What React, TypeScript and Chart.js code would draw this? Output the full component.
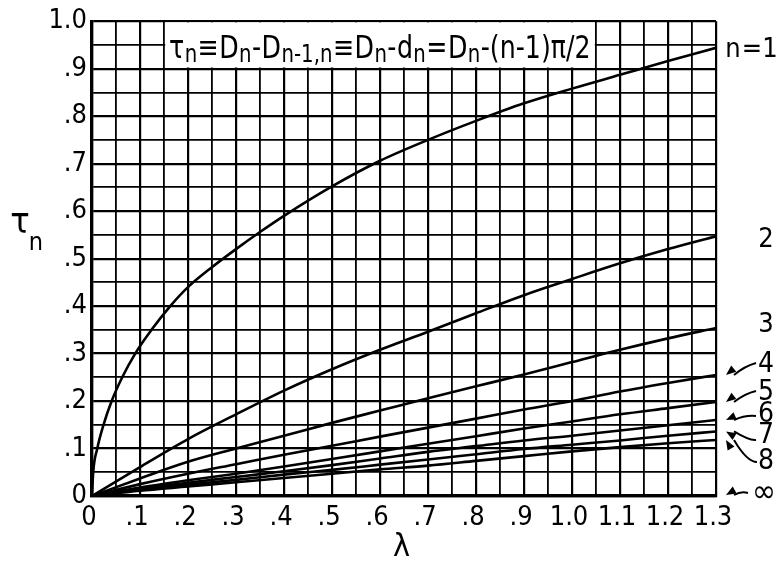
import React, { useEffect, useRef } from "react";
import { Chart, registerables } from "chart.js";

Chart.register(...registerables);

// ---- data ----
const LAMBDA_N1 = [0, 0.0025, 0.011, 0.024, 0.041, 0.063, 0.09, 0.124, 0.163, 0.2, 0.25, 0.3, 0.35, 0.4, 0.5, 0.6, 0.7, 0.8, 0.9, 1.0, 1.1, 1.2, 1.3];
const TAU_N1 = [0, 0.05, 0.1, 0.15, 0.2, 0.25, 0.3, 0.35, 0.4, 0.44, 0.482, 0.52, 0.556, 0.59, 0.652, 0.706, 0.75, 0.79, 0.827, 0.858, 0.887, 0.916, 0.944];

const LAMBDA = [0, 0.1, 0.2, 0.3, 0.4, 0.5, 0.6, 0.7, 0.8, 0.9, 1.0, 1.1, 1.2, 1.3];
const TAU_N2 = [0, 0.061, 0.12, 0.172, 0.222, 0.267, 0.308, 0.346, 0.385, 0.423, 0.457, 0.49, 0.52, 0.547];
const TAU_N3 = [0, 0.037, 0.072, 0.1, 0.127, 0.154, 0.18, 0.206, 0.231, 0.256, 0.282, 0.308, 0.332, 0.354];
const TAU_N4 = [0, 0.025, 0.047, 0.067, 0.087, 0.106, 0.125, 0.144, 0.163, 0.182, 0.2, 0.22, 0.238, 0.255];
const TAU_N5 = [0, 0.018, 0.033, 0.047, 0.062, 0.078, 0.094, 0.11, 0.126, 0.142, 0.157, 0.172, 0.185, 0.198];
const TAU_N6 = [0, 0.015, 0.028, 0.04, 0.052, 0.065, 0.079, 0.093, 0.105, 0.117, 0.127, 0.138, 0.149, 0.16];
const TAU_N7 = [0, 0.013, 0.024, 0.034, 0.045, 0.055, 0.066, 0.077, 0.088, 0.099, 0.108, 0.117, 0.127, 0.136];
const TAU_N8 = [0, 0.011, 0.02, 0.029, 0.038, 0.047, 0.056, 0.064, 0.074, 0.084, 0.094, 0.103, 0.111, 0.118];
const TAU_INF = [0, 0, 0, 0, 0, 0, 0, 0, 0, 0, 0, 0, 0, 0];

const CURVE_LABELS = ["n = 1", "2", "3", "4", "5", "6", "7", "8", "∞"];

const X_TICK_LABELS = ["0", ".1", ".2", ".3", ".4", ".5", ".6", ".7", ".8", ".9", "1.0", "1.1", "1.2", "1.3"];
const Y_TICK_LABELS = ["0", ".1", ".2", ".3", ".4", ".5", ".6", ".7", ".8", ".9", "1.0"];

const X_TITLE = "λ";
const Y_TITLE_MAIN = "τ";
const Y_TITLE_SUB = "n";

// formula parts: [text, isSubscript]
const FORMULA: [string, boolean][] = [
  ["τ", false], ["n", true], ["≡", false], ["D", false], ["n", true], ["-", false],
  ["D", false], ["n-1,n", true], ["≡", false], ["D", false], ["n", true], ["-", false],
  ["d", false], ["n", true], ["=", false], ["D", false], ["n", true], ["-(n-1)π/2", false],
];

const FONT = "'DejaVu Sans Condensed', 'Liberation Sans Narrow', 'DejaVu Sans', sans-serif";

function pts(xs: number[], ys: number[]) {
  return xs.map((x, i) => ({ x, y: ys[i] }));
}

const annotate = {
  id: "annotate",
  beforeDatasetsDraw(chart: any) {
    const { ctx } = chart;
    const x = chart.scales.x;
    const y = chart.scales.y;
    const l = x.getPixelForValue(0.15);
    const r = x.getPixelForValue(1.05);
    const t = y.getPixelForValue(1.0);
    const b = y.getPixelForValue(0.9);
    ctx.save();
    ctx.fillStyle = "#fff";
    ctx.fillRect(l + 1.2, t + 1.2, r - l - 2.4, b - t - 2.4);

    const mainFont = `32px ${FONT}`;
    const subFont = `25px ${FONT}`;
    let total = 0;
    const widths = FORMULA.map(([s, sub]) => {
      ctx.font = sub ? subFont : mainFont;
      const w = ctx.measureText(s).width + 0.5;
      total += w;
      return w;
    });
    const x0 = l + 5;
    const avail = r - l - 10;
    const k = avail / total;
    ctx.translate(x0, 0);
    ctx.scale(k, 1);
    ctx.fillStyle = "#000";
    ctx.textAlign = "left";
    ctx.textBaseline = "alphabetic";
    let cx = 0;
    FORMULA.forEach(([s, sub], i) => {
      ctx.font = sub ? subFont : mainFont;
      ctx.fillText(s, cx, sub ? t + 41 : t + 37);
      cx += widths[i];
    });
    ctx.restore();
  },
  afterDraw(chart: any) {
    const { ctx } = chart;
    const x = chart.scales.x;
    const y = chart.scales.y;
    ctx.save();
    ctx.fillStyle = "#000";
    ctx.strokeStyle = "#000";

    // axis titles
    ctx.font = `32px ${FONT}`;
    ctx.textAlign = "center";
    ctx.textBaseline = "middle";
    ctx.fillText(X_TITLE, x.getPixelForValue(0.645), 548);
    ctx.font = `36px ${FONT}`;
    ctx.fillText(Y_TITLE_MAIN, 20, 224);
    ctx.font = `25px ${FONT}`;
    ctx.fillText(Y_TITLE_SUB, 36, 243);

    // curve labels
    const xr = x.getPixelForValue(1.3);
    const ends = [TAU_N1, TAU_N2, TAU_N3, TAU_N4, TAU_N5, TAU_N6, TAU_N7, TAU_N8, TAU_INF].map(
      (a) => y.getPixelForValue(a[a.length - 1])
    );
    // "n = 1" laid out piece by piece so it fits in the right margin
    ctx.font = `27px ${FONT}`;
    ctx.textAlign = "center";
    const n1Parts = CURVE_LABELS[0].split(" ");
    const n1X = [xr + 17, xr + 36, xr + 54];
    n1Parts.forEach((p, i) => ctx.fillText(p, n1X[i], ends[0] + 2));
    ctx.fillText(CURVE_LABELS[1], xr + 50, ends[1] + 4);
    ctx.fillText(CURVE_LABELS[2], xr + 50, ends[2] - 3);
    const labelY = [0, 0, 0, 365, 393, 415, 436, 462, 494];
    const starts: [number, number][] = [
      [0, 0], [0, 0], [0, 0],
      [xr + 40, 363], [xr + 40, 391], [xr + 40, 416], [xr + 40, 440], [xr + 41, 462], [xr + 32, 493],
    ];
    for (let i = 3; i < 9; i++) {
      ctx.font = `${i === 8 ? 32 : 28}px ${FONT}`;
      ctx.fillText(CURVE_LABELS[i], xr + 50 + (i === 8 ? -2 : 0), labelY[i]);
      const tipX = xr + 10;
      const tipY = ends[i] + (i === 8 ? -1 : 0);
      const [sx, sy] = starts[i];
      const ex = tipX + 8;
      let cpx = (sx + ex) / 2;
      let cpy = (sy + tipY) / 2 - 3;
      if (i === 6) { cpx = sx - 6; cpy = sy + 1; }
      if (i === 7) { cpx = sx - 10; cpy = sy; }
      ctx.lineWidth = 2;
      ctx.beginPath();
      ctx.moveTo(sx, sy);
      ctx.quadraticCurveTo(cpx, cpy, ex, tipY);
      ctx.stroke();
      const ang = Math.atan2(tipY - cpy, ex - cpx);
      const len = 10, half = 4;
      const ux = Math.cos(ang), uy = Math.sin(ang);
      ctx.beginPath();
      ctx.moveTo(tipX, tipY);
      ctx.lineTo(tipX - ux * len - uy * half, tipY - uy * len + ux * half);
      ctx.lineTo(tipX - ux * len + uy * half, tipY - uy * len - ux * half);
      ctx.closePath();
      ctx.fill();
    }
    ctx.restore();
  },
};

export default function App() {
  const ref = useRef<HTMLCanvasElement | null>(null);
  useEffect(() => {
    if (!ref.current) return;
    const series = [
      pts(LAMBDA_N1, TAU_N1),
      pts(LAMBDA, TAU_N2),
      pts(LAMBDA, TAU_N3),
      pts(LAMBDA, TAU_N4),
      pts(LAMBDA, TAU_N5),
      pts(LAMBDA, TAU_N6),
      pts(LAMBDA, TAU_N7),
      pts(LAMBDA, TAU_N8),
      pts(LAMBDA, TAU_INF),
    ];
    const gridW = (c: any) => (Math.round(c.tick.value * 20) % 2 === 0 ? 2.2 : 1.8);
    const chart = new Chart(ref.current, {
      type: "line",
      data: {
        datasets: series.map((d, i) => ({
          label: CURVE_LABELS[i],
          data: d,
          borderColor: "#000",
          borderWidth: 2.6,
          pointRadius: 0,
          fill: false,
          cubicInterpolationMode: "monotone",
        })),
      },
      options: {
        animation: false,
        responsive: false,
        events: [],
        layout: { padding: { left: 0, right: 65, top: 16, bottom: 0 } },
        plugins: { legend: { display: false }, tooltip: { enabled: false }, title: { display: false } },
        scales: {
          x: {
            type: "linear",
            min: 0,
            max: 1.3,
            afterBuildTicks: (s: any) => {
              s.ticks = Array.from({ length: 27 }, (_, i) => ({ value: i * 0.05 }));
            },
            afterFit: (s: any) => {
              s.height = 68;
            },
            ticks: {
              autoSkip: false,
              maxRotation: 0,
              padding: 6,
              labelOffset: -3,
              color: "#000",
              font: { family: FONT, size: 27 },
              callback: (v: any) => {
                const i = Math.round(Number(v) * 20);
                return i % 2 === 0 ? X_TICK_LABELS[i / 2] : "";
              },
            },
            grid: { color: "#000", lineWidth: gridW, drawTicks: false },
            border: { display: true, color: "#000", width: 3.2 },
          },
          y: {
            type: "linear",
            min: 0,
            max: 1.0,
            afterBuildTicks: (s: any) => {
              s.ticks = Array.from({ length: 21 }, (_, i) => ({ value: i * 0.05 }));
            },
            afterFit: (s: any) => {
              s.width = 92;
            },
            ticks: {
              autoSkip: false,
              padding: 5,
              color: "#000",
              font: { family: FONT, size: 27 },
              callback: (v: any) => {
                const i = Math.round(Number(v) * 20);
                return i % 2 === 0 ? Y_TICK_LABELS[i / 2] : "";
              },
            },
            grid: { color: "#000", lineWidth: gridW, drawTicks: false },
            border: { display: true, color: "#000", width: 3.2 },
          },
        },
      },
      plugins: [annotate],
    } as any);
    return () => chart.destroy();
  }, []);
  return (
    <div style={{ position: "absolute", left: 0, top: 0, width: 781, height: 564, background: "#fff" }}>
      <canvas ref={ref} width={781} height={564} style={{ display: "block", width: 781, height: 564 }} />
    </div>
  );
}
